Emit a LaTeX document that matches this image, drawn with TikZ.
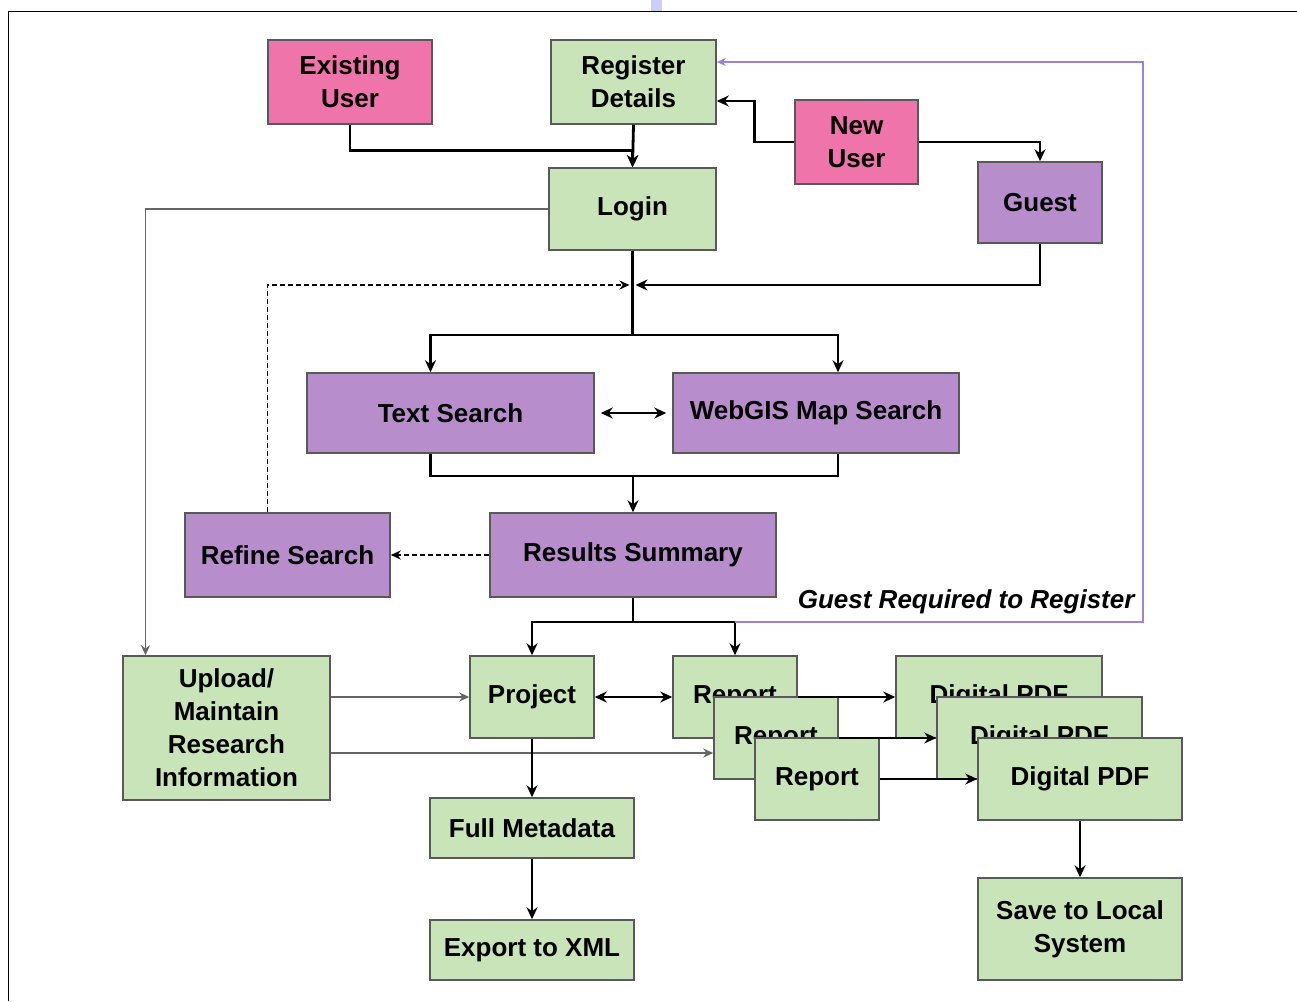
\documentclass[tikz,border=0pt]{standalone}
\usepackage{fontspec}
\setmainfont{Liberation Sans}
\usetikzlibrary{arrows.meta}

\definecolor{userpink}{RGB}{238,116,170}
\definecolor{pagegreen}{RGB}{201,228,184}
\definecolor{searchpurple}{RGB}{183,141,203}
\definecolor{regviolet}{RGB}{160,130,210}

\begin{document}
\begin{tikzpicture}[x=1pt, y=-1pt, font=\fontsize{26}{33}\selectfont\bfseries]
        % Define styles
        \tikzstyle{box} = [rectangle, draw=black!65, line width=1.5pt, inner sep=0pt, align=center, text centered]
        \tikzstyle{user} = [box, fill=userpink]
        \tikzstyle{page} = [box, fill=pagegreen]
        \tikzstyle{search} = [box, fill=searchpurple]
        \tikzstyle{link} = [line width=2.8pt]
        \tikzstyle{arrow} = [line width=2.8pt,-{Stealth[length=12pt,width=11pt]}]
        \tikzstyle{biarrow} = [line width=2.8pt,{Stealth[length=12pt,width=11pt]}-{Stealth[length=12pt,width=11pt]}]
        \tikzstyle{thinarrow} = [line width=1.6pt,draw=black!60,-{Stealth[length=10pt,width=9pt]}]
        \tikzstyle{dasharrow} = [line width=1.6pt,dash pattern=on 5pt off 3pt,-{Stealth[length=10pt,width=9pt]}]
        \tikzstyle{regarrow} = [line width=1.6pt,draw=regviolet,-{Stealth[length=9pt,width=8pt]}]

        \useasboundingbox (0,0) rectangle (1297,1001);
        \fill [blue!20] (651,0) rectangle (662,11);
        \draw [line width=1pt] (8,1001) -- (8,11) -- (1297,11);

        % Nodes
        \node (exist) [user, minimum width=164pt, minimum height=84pt] at (350,82) {Existing\\User};
        \node (reg) [page, minimum width=165pt, minimum height=84pt] at (633.5,82) {Register\\Details};
        \node (newu) [user, minimum width=123pt, minimum height=84pt] at (856.5,142) {New\\User};
        \node (login) [page, minimum width=167pt, minimum height=82pt] at (632.5,209) {Login};
        \node (guest) [search, minimum width=124pt, minimum height=81pt] at (1040,202.5) {Guest};
        \node (text) [search, minimum width=287pt, minimum height=80pt] at (450.5,413) {Text Search};
        \node (gis) [search, minimum width=286pt, minimum height=80pt] at (816,413) {WebGIS Map Search};
        \node (refine) [search, minimum width=205pt, minimum height=84pt] at (287.5,555) {Refine Search};
        \node (results) [search, minimum width=286pt, minimum height=84pt] at (633,555) {Results Summary};
        \node (upload) [page, minimum width=207pt, minimum height=144pt] at (226.5,728) {Upload/\\Maintain\\Research\\Information};
        \node (proj) [page, minimum width=124pt, minimum height=82pt] at (532,697) {Project};
        \node (rep1) [page, minimum width=124pt, minimum height=82pt] at (735,697) {Report};
        \node (rep2) [page, minimum width=124pt, minimum height=82pt] at (776,738) {Report};
        \node (rep3) [page, minimum width=124pt, minimum height=82pt] at (817,779) {Report};
        \node (pdf1) [page, minimum width=206pt, minimum height=82pt] at (999,697) {Digital PDF};
        \node (pdf2) [page, minimum width=205pt, minimum height=82pt] at (1039.5,738) {Digital PDF};
        \node (pdf3) [page, minimum width=204pt, minimum height=82pt] at (1080,779) {Digital PDF};
        \node (meta) [page, minimum width=204pt, minimum height=60pt] at (532,828) {Full Metadata};
        \node (xml) [page, minimum width=204pt, minimum height=60pt] at (532,950) {Export to XML};
        \node (save) [page, minimum width=204pt, minimum height=102pt] at (1080,929) {Save to Local\\System};
        \node (note) [anchor=east] at (1138,602) {\itshape Guest Required to Register};

        % Junctions
        \coordinate (join) at (632.5,285);
        \coordinate (split) at (632.5,335);
        \coordinate (merge) at (633,476);
        \coordinate (fork) at (633,622);
        \coordinate (corner) at (1143,622);
        \coordinate (rep2in) at ([yshift=-15pt]rep2.west);

        % Arrows
        \draw [arrow] (exist.south) -- ++(0,26) -| (login.north);
        \draw [arrow] (reg.south) -- (login.north);
        \draw [arrow] (newu.west) -- ++(-40,0) |- ([yshift=-19pt]reg.east);
        \draw [arrow] (newu.east) -| (guest.north);
        \draw [arrow] (guest.south) |- ([xshift=3pt]join);
        \draw [dasharrow] ([xshift=-20pt]refine.north) |- ([xshift=-3pt]join);
        \draw [link] (login.south) -- (split);
        \draw [arrow] (split) -| ([xshift=-20pt]text.north);
        \draw [arrow] (split) -| ([xshift=22pt]gis.north);
        \draw [biarrow] ([xshift=6pt]text.east) -- ([xshift=-6pt]gis.west);
        \draw [link] ([xshift=-20pt]text.south) |- (merge) -| ([xshift=22pt]gis.south);
        \draw [arrow] (merge) -- (results.north);
        \draw [dasharrow] (results.west) -- (refine.east);
        \draw [link] (results.south) -- (fork);
        \draw [arrow] (fork) -| (proj.north);
        \draw [arrow] (fork) -| (rep1.north);
        \draw [regarrow] (rep1.north |- fork) -- (corner) |- ([yshift=20pt]reg.east);
        \draw [thinarrow] (login.west) -| ([xshift=-81pt]upload.north);
        \draw [thinarrow] (upload.east |- proj.west) -- (proj.west);
        \draw [thinarrow] (upload.east |- rep2in) -- (rep2in);
        \draw [biarrow] (proj.east) -- (rep1.west);
        \draw [arrow] (proj.south) -- (meta.north);
        \draw [arrow] (meta.south) -- (xml.north);
        \draw [arrow] (rep1.east) -- (pdf1.west);
        \draw [arrow] (rep2.east) -- (pdf2.west);
        \draw [arrow] (rep3.east) -- (pdf3.west);
        \draw [arrow] (pdf3.south) -- (save.north);
    \end{tikzpicture}
\end{document}
